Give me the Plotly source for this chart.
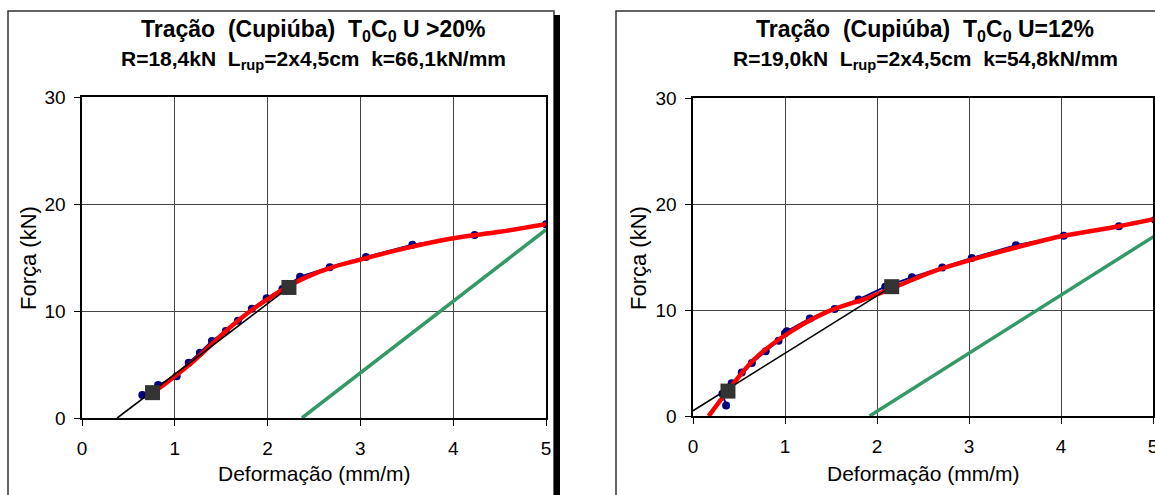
import plotly.graph_objects as go

W, H = 1155, 495

# ---------------- data: left chart (U > 20%) ----------------
left_data_x = [0.65, 0.82, 1.02, 1.15, 1.27, 1.40, 1.55, 1.68, 1.83, 1.99, 2.16, 2.35, 2.67, 3.06, 3.56, 4.23, 5.00]
left_data_y = [2.15, 3.08, 3.9, 5.17, 6.1, 7.2, 8.13, 9.1, 10.2, 11.2, 12.05, 13.2, 14.1, 15.05, 16.2, 17.1, 18.1]
left_fit_x = [0.70, 0.85, 1.00, 1.20, 1.40, 1.60, 1.80, 2.00, 2.20, 2.40, 2.70, 3.00, 3.50, 4.00, 4.50, 5.00]
left_fit_y = [2.0, 2.9, 3.9, 5.3, 6.9, 8.5, 9.9, 11.1, 12.2, 13.1, 14.1, 14.8, 15.9, 16.8, 17.4, 18.1]
left_sec_x = [0.38, 2.23]
left_sec_y = [0.0, 12.2]
left_sq_x = [0.76, 2.23]
left_sq_y = [2.37, 12.2]
left_green_x = [2.37, 5.0]
left_green_y = [0.0, 17.6]

# ---------------- data: right chart (U = 12%) ----------------
right_data_x = [0.36, 0.32, 0.42, 0.53, 0.64, 0.79, 0.93, 1.00, 1.02, 1.27, 1.54, 1.80, 2.09, 2.38, 2.71, 3.03, 3.51, 4.03, 4.63, 5.02]
right_data_y = [1.0, 2.1, 3.1, 4.1, 5.0, 6.1, 7.1, 7.8, 8.0, 9.2, 10.1, 11.0, 12.2, 13.1, 14.0, 14.9, 16.1, 17.0, 17.9, 18.5]
right_fit_x = [0.17, 0.38, 0.66, 0.98, 1.45, 1.92, 2.29, 2.60, 3.01, 3.51, 4.03, 4.63, 5.02]
right_fit_y = [0.0, 2.4, 5.3, 7.5, 9.8, 11.2, 12.5, 13.6, 14.7, 15.9, 17.0, 17.9, 18.6]
right_sec_x = [0.0, 2.16]
right_sec_y = [0.5, 12.2]
right_sq_x = [0.38, 2.16]
right_sq_y = [2.35, 12.2]
right_green_x = [1.92, 5.02]
right_green_y = [0.0, 17.0]

# tick labels
x_ticks = [0, 1, 2, 3, 4, 5]
y_ticks = [0, 10, 20, 30]

NB = "\u00a0"
title_left = ("Tração" + NB + " (Cupiúba)" + NB + " T<sub>0</sub>C<sub>0</sub> U" + NB + ">20%",
              "R=18,4kN" + NB + " L<sub>rup</sub>=2x4,5cm" + NB + " k=66,1kN/mm")
title_right = ("Tração" + NB + " (Cupiúba)" + NB + " T<sub>0</sub>C<sub>0</sub> U=12%",
               "R=19,0kN" + NB + " L<sub>rup</sub>=2x4,5cm" + NB + " k=54,8kN/mm")
x_title = "Deformação (mm/m)"
y_title = "Força (kN)"


def px(x):
    return x / W


def py(y):
    return 1 - y / H


FONT = "Liberation Sans, Arial, sans-serif"
NAVY = "#000080"
RED = "#ff0000"
GREEN = "#339966"
SQ = "#333333"

fig = go.Figure()


def add_series(xa, ya, dx, dy, sqx, sqy, sx, sy, gx, gy, fx, fy):
    fig.add_trace(go.Scatter(x=dx, y=dy, mode="lines+markers", xaxis=xa, yaxis=ya,
                             line=dict(color=NAVY, width=2),
                             marker=dict(color=NAVY, size=8), showlegend=False,
                             cliponaxis=True))
    fig.add_trace(go.Scatter(x=fx, y=fy, mode="lines", xaxis=xa, yaxis=ya,
                             line=dict(color=RED, width=4.5, shape="spline"), showlegend=False))
    fig.add_trace(go.Scatter(x=sx, y=sy, mode="lines", xaxis=xa, yaxis=ya,
                             line=dict(color="black", width=1.6), showlegend=False))
    fig.add_trace(go.Scatter(x=sqx, y=sqy, mode="markers", xaxis=xa, yaxis=ya,
                             marker=dict(color=SQ, size=15, symbol="square"),
                             showlegend=False))
    fig.add_trace(go.Scatter(x=gx, y=gy, mode="lines", xaxis=xa, yaxis=ya,
                             line=dict(color=GREEN, width=3.5), showlegend=False))


add_series("x", "y", left_data_x, left_data_y, left_sq_x, left_sq_y, left_sec_x, left_sec_y,
           left_green_x, left_green_y, left_fit_x, left_fit_y)
add_series("x2", "y2", right_data_x, right_data_y, right_sq_x, right_sq_y, right_sec_x, right_sec_y,
           right_green_x, right_green_y, right_fit_x, right_fit_y)

axis_common = dict(showline=True, linecolor="black", linewidth=1.6, mirror=True,
                   showgrid=True, gridcolor="#444444", gridwidth=1, zeroline=False,
                   ticks="outside", ticklen=6, tickcolor="black", tickwidth=1,
                   automargin=False, ticklabeloverflow="allow",
                   tickfont=dict(family=FONT, size=19, color="black"), fixedrange=True)

fig.update_layout(
    template="none",
    width=W, height=H,
    margin=dict(l=0, r=0, t=0, b=0, pad=0, autoexpand=False),
    paper_bgcolor="white", plot_bgcolor="white",
    hovermode=False,
    xaxis=dict(domain=[px(82), px(546)], range=[0, 5], tickvals=x_ticks,
               ticklabelstandoff=7, anchor="y", **axis_common),
    yaxis=dict(domain=[py(418), py(97)], range=[0, 30], tickvals=y_ticks,
               ticklabelstandoff=5, anchor="x", **axis_common),
    xaxis2=dict(domain=[px(693), px(1153)], range=[0, 5], tickvals=x_ticks,
                ticklabelstandoff=7, anchor="y2", **axis_common),
    yaxis2=dict(domain=[py(416), py(98)], range=[0, 30], tickvals=y_ticks,
                ticklabelstandoff=5, anchor="x2", **axis_common),
)

shapes = [
    # left frame
    dict(type="rect", xref="paper", yref="paper", x0=px(8), x1=px(554), y0=py(11), y1=py(505),
         line=dict(color="#333333", width=1.5), fillcolor="rgba(0,0,0,0)", layer="below"),
    # left shadow
    dict(type="rect", xref="paper", yref="paper", x0=px(554), x1=px(560), y0=py(15), y1=py(505),
         line=dict(width=0), fillcolor="black", layer="below"),
    # right frame
    dict(type="rect", xref="paper", yref="paper", x0=px(616), x1=px(1170), y0=py(11), y1=py(505),
         line=dict(color="#333333", width=1.5), fillcolor="rgba(0,0,0,0)", layer="below"),
]
fig.update_layout(shapes=shapes)

ann = []
for cx, (l1, l2) in [(313, title_left), (925, title_right)]:
    ann.append(dict(text="<b>" + l1 + "</b>", x=px(cx), y=py(31), xref="paper", yref="paper",
                    showarrow=False, xanchor="center", yanchor="middle",
                    font=dict(family=FONT, size=23, color="black")))
    ann.append(dict(text="<b>" + l2 + "</b>", x=px(cx), y=py(60), xref="paper", yref="paper",
                    showarrow=False, xanchor="center", yanchor="middle",
                    font=dict(family=FONT, size=21, color="black")))
for cx in (314, 923):
    ann.append(dict(text=x_title, x=px(cx), y=py(473), xref="paper", yref="paper",
                    showarrow=False, xanchor="center", yanchor="middle",
                    font=dict(family=FONT, size=21, color="black")))
for cx in (28, 638):
    ann.append(dict(text=y_title, x=px(cx), y=py(258), xref="paper", yref="paper",
                    showarrow=False, xanchor="center", yanchor="middle", textangle=-90,
                    font=dict(family=FONT, size=22, color="black")))
fig.update_layout(annotations=ann)

fig.write_html("out.html",
               config={"displayModeBar": False, "staticPlot": True},
               post_script="document.body.style.margin='0';document.body.style.padding='0';"
                           "document.body.style.overflow='hidden';")
